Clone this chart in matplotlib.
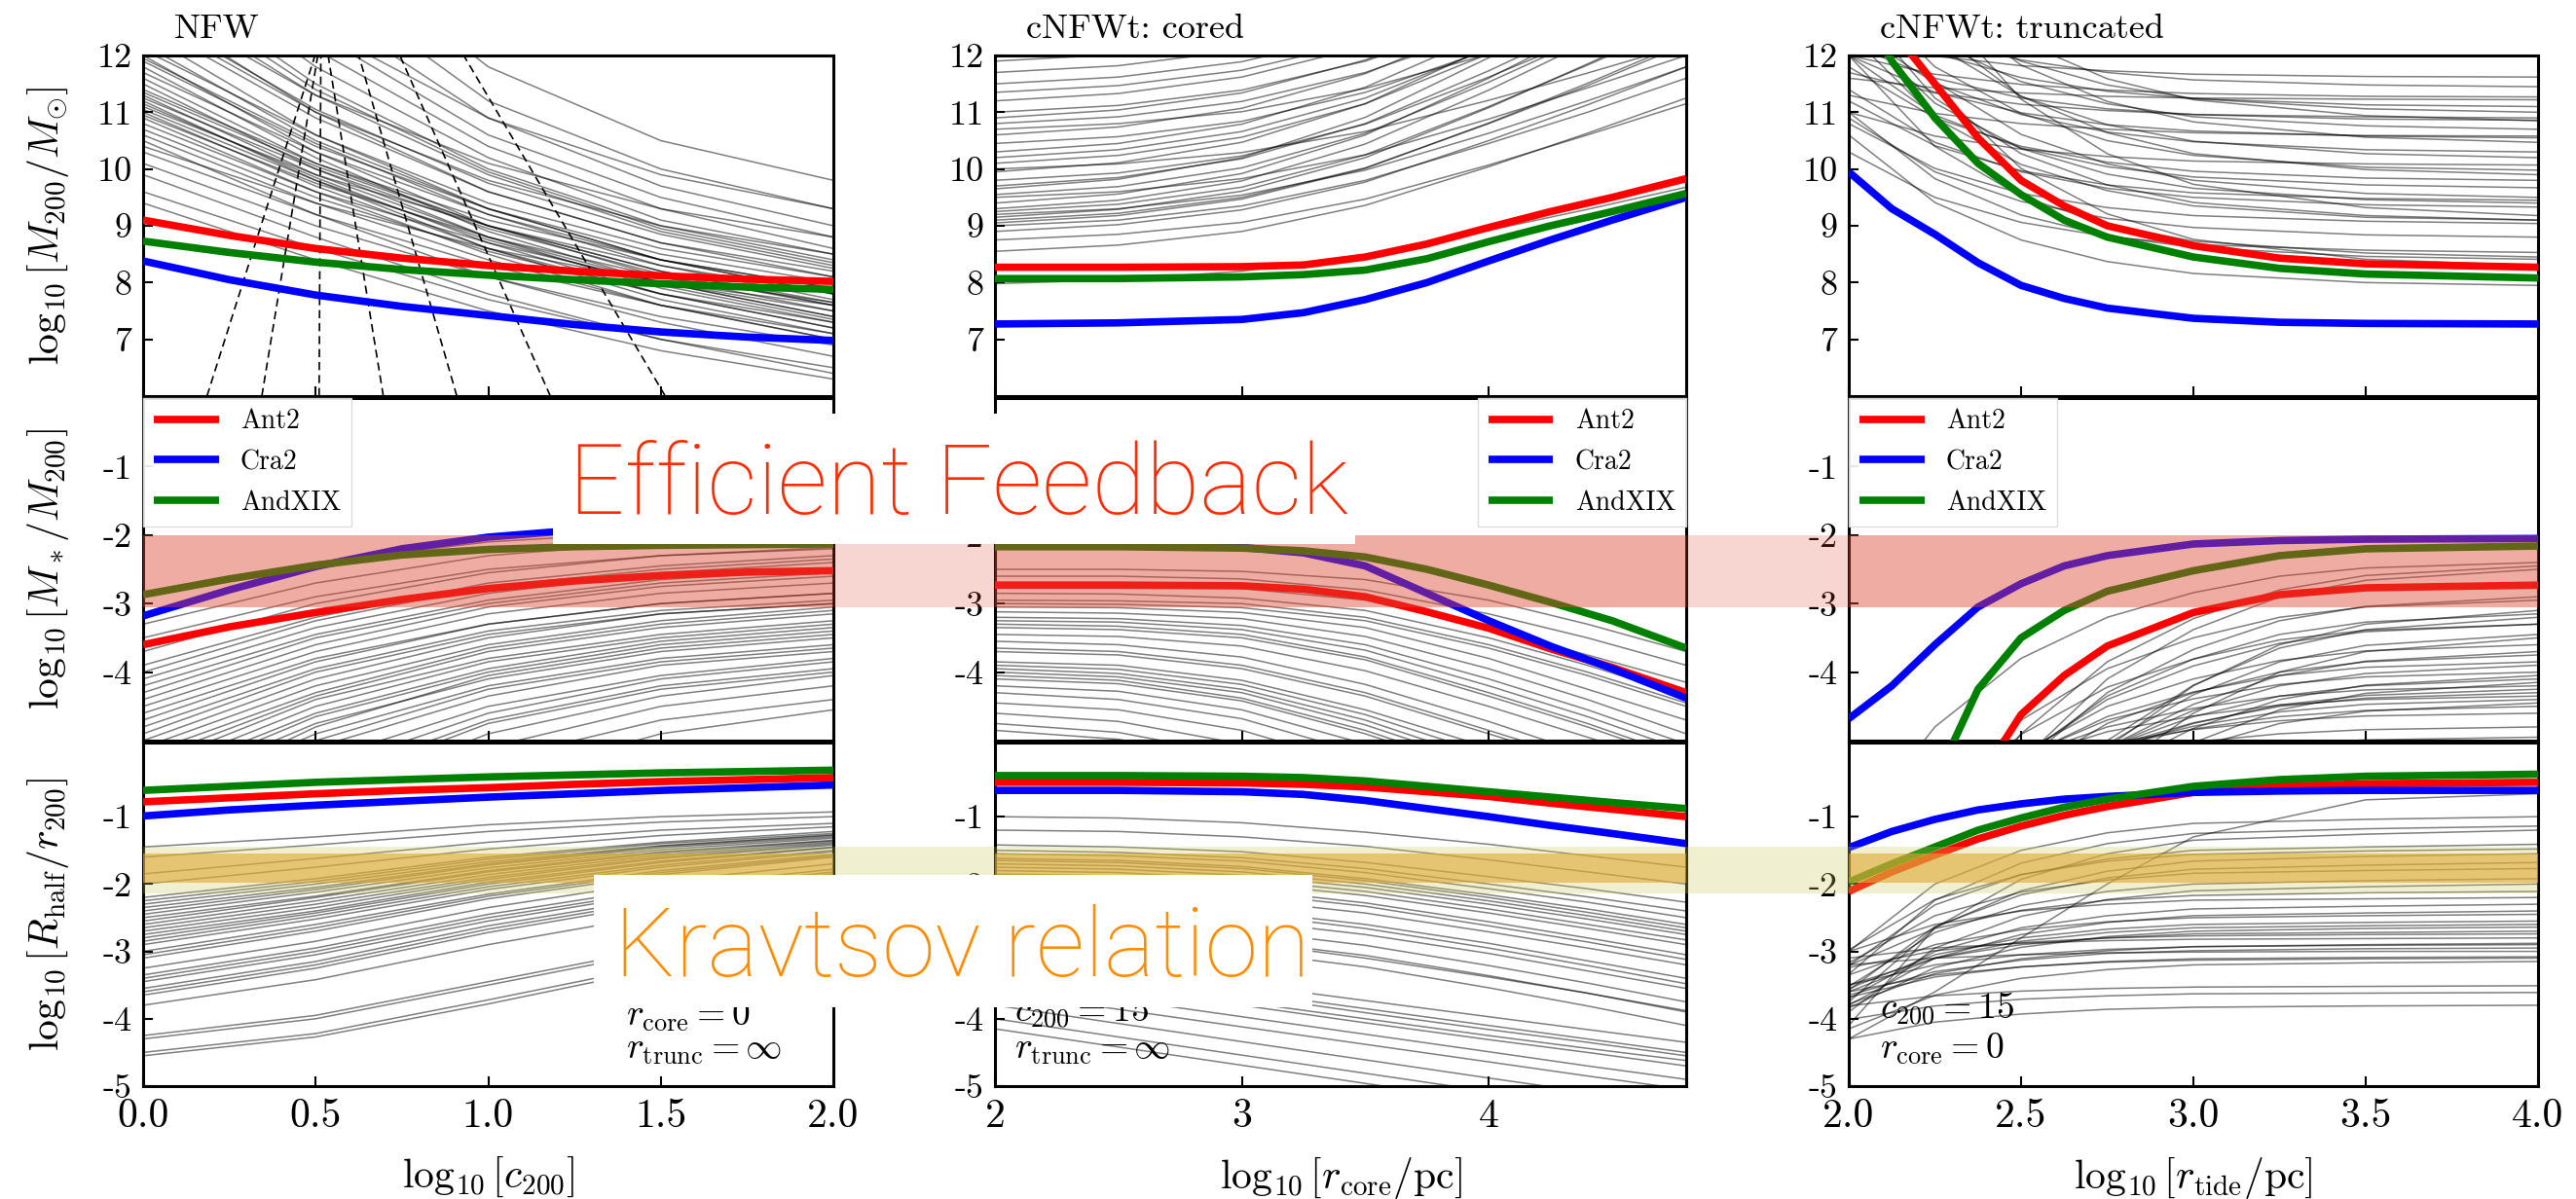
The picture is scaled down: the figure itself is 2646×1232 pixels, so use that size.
import matplotlib
matplotlib.use("Agg")
import matplotlib.pyplot as plt
from matplotlib.patches import Rectangle
from matplotlib.transforms import blended_transform_factory

plt.rcParams["font.family"] = "serif"
plt.rcParams["font.serif"] = ["cmr10"]
plt.rcParams["mathtext.fontset"] = "cm"
plt.rcParams["axes.unicode_minus"] = False
plt.rcParams["axes.formatter.use_mathtext"] = True

# ---------------- data ----------------
names = ["Ant2", "Cra2", "AndXIX"]
colors = ["red", "blue", "green"]
titles = ["NFW", "cNFWt: cored", "cNFWt: truncated"]
xlabels = [r"$\log_{10}[c_{200}]$", r"$\log_{10}[r_{\rm core}/{\rm pc}]$",
           r"$\log_{10}[r_{\rm tide}/{\rm pc}]$"]
ylabels = [r"$\log_{10}[M_{200}/M_{\odot}]$", r"$\log_{10}[M_*/M_{200}]$",
           r"$\log_{10}[R_{\rm half}/r_{200}]$"]
xticks = [[0.0, 0.5, 1.0, 1.5, 2.0], [2, 3, 4], [2.0, 2.5, 3.0, 3.5, 4.0]]
xticklabels = [["0.0", "0.5", "1.0", "1.5", "2.0"], ["2", "3", "4"],
               ["2.0", "2.5", "3.0", "3.5", "4.0"]]
xlims = [(0, 2), (2, 4.8), (2, 4)]
yticks = [[7, 8, 9, 10, 11, 12], [-1, -2, -3, -4], [-1, -2, -3, -4, -5]]
yticklabels = [["7", "8", "9", "10", "11", "12"], ["-1", "-2", "-3", "-4"],
               ["-1", "-2", "-3", "-4", "-5"]]
ylims = [(6, 12), (-5, 0), (-5, 0.1)]

# knots of the curves
nfw_x = [0.0, 0.25, 0.5, 0.75, 1.0, 1.25, 1.5, 1.75, 2.0]
nfw_x_gray = [0.0, 0.5, 1.0, 1.5, 2.0]
core_x = [2.0, 2.5, 3.0, 3.25, 3.5, 3.75, 4.0, 4.25, 4.5, 4.8]
core_x_gray = [2.0, 2.5, 3.0, 3.5, 4.0, 4.4, 4.8]
tide_x = [2.0, 2.125, 2.25, 2.375, 2.5, 2.625, 2.75, 3.0, 3.25, 3.5, 4.0]
tide_x_gray = [2.0, 2.25, 2.5, 2.75, 3.0, 3.5, 4.0]
tide_x_gray_mstar = [2.0, 2.25, 2.5, 2.75, 3.0, 3.25, 3.5, 4.0]

# NFW column
nfw_m200_ant2 = [9.1, 8.83, 8.6, 8.43, 8.3, 8.2, 8.12, 8.06, 8.02]
nfw_m200_cra2 = [8.38, 8.05, 7.78, 7.58, 7.42, 7.26, 7.13, 7.04, 6.98]
nfw_m200_andxix = [8.73, 8.53, 8.36, 8.23, 8.13, 8.05, 7.98, 7.92, 7.88]
nfw_mstar_ant2 = [-3.6, -3.34, -3.13, -2.94, -2.78, -2.67, -2.59, -2.54, -2.52]
nfw_mstar_cra2 = [-3.18, -2.8, -2.46, -2.2, -2.03, -1.93, -1.87, -1.84, -1.82]
nfw_mstar_andxix = [-2.87, -2.64, -2.44, -2.29, -2.21, -2.17, -2.15, -2.14, -2.13]
nfw_rhalf_ant2 = [-0.78, -0.72, -0.66, -0.61, -0.57, -0.52, -0.48, -0.45, -0.42]
nfw_rhalf_cra2 = [-0.99, -0.9, -0.83, -0.77, -0.71, -0.66, -0.61, -0.57, -0.53]
nfw_rhalf_andxix = [-0.61, -0.55, -0.49, -0.45, -0.41, -0.38, -0.35, -0.33, -0.31]

# dashed lines in the NFW mass panel: x at the bottom (6) and top (12)
nfw_dash_bottom = [0.185, 0.344, 0.51, 0.696, 0.909, 1.18, 1.513]
nfw_dash_top = [0.498, 0.506, 0.515, 0.536, 0.625, 0.744, 0.929]

nfw_m200_gray = [
    [18.5, 14.2, 11.8, 10.5, 9.8], [17.0, 13.4, 11.2, 10.0, 9.3],
    [16.0, 12.9, 10.9, 9.7, 9.0], [15.2, 12.4, 10.6, 9.5, 8.8],
    [14.6, 12.1, 10.4, 9.3, 8.6], [14.0, 11.8, 10.2, 9.1, 8.5],
    [13.6, 11.5, 10.0, 9.0, 8.4], [13.2, 11.3, 9.9, 8.9, 8.3],
    [12.9, 11.0, 9.6, 8.7, 8.1], [12.6, 10.9, 9.6, 8.7, 8.2],
    [12.4, 10.6, 9.3, 8.4, 7.8], [12.2, 10.5, 9.3, 8.4, 7.9],
    [12.0, 10.3, 9.0, 8.1, 7.5], [11.9, 10.4, 9.3, 8.5, 8.0],
    [11.8, 10.2, 8.9, 8.0, 7.4], [11.6, 10.1, 9.0, 8.2, 7.6],
    [11.5, 10.0, 8.8, 7.9, 7.3], [11.4, 10.1, 9.1, 8.4, 7.9],
    [11.3, 9.9, 8.8, 8.0, 7.4], [11.2, 9.8, 8.6, 7.7, 7.1],
    [11.1, 9.9, 9.0, 8.3, 7.8], [11.0, 9.7, 8.6, 7.8, 7.2],
    [10.9, 9.6, 8.5, 7.6, 7.0], [10.8, 9.6, 8.7, 8.0, 7.5],
    [10.6, 9.4, 8.4, 7.6, 7.0], [10.5, 9.2, 8.1, 7.3, 6.7],
    [10.3, 9.2, 8.3, 7.6, 7.1], [10.1, 9.0, 8.1, 7.4, 6.9],
    [9.9, 8.8, 7.8, 7.0, 6.4], [9.6, 8.6, 7.7, 7.0, 6.5],
    [9.4, 8.4, 7.5, 6.8, 6.3], [13.0, 11.3, 10.1, 9.3, 8.8],
    [15.0, 12.5, 10.9, 9.9, 9.3], [12.7, 11.0, 9.8, 9.0, 8.5],
    [11.7, 10.3, 9.2, 8.4, 7.8], [10.4, 9.4, 8.6, 8.0, 7.6],
    [12.1, 10.6, 9.4, 8.6, 8.1], [11.95, 10.45, 9.2, 8.3, 7.7],
    [11.25, 10.0, 8.95, 8.15, 7.6], [11.05, 9.8, 8.75, 7.95, 7.35],
    [10.95, 9.75, 8.8, 8.1, 7.65], [11.35, 10.05, 9.0, 8.2, 7.65],
    [10.7, 9.5, 8.55, 7.8, 7.3], [13.4, 11.4, 9.95, 8.95, 8.35],
    [12.8, 11.05, 9.75, 8.85, 8.25], [11.15, 9.85, 8.7, 7.8, 7.2],
]
nfw_mstar_gray = [
    [-2.9, -2.4, -2.1, -1.95, -1.88], [-3.3, -2.7, -2.3, -2.1, -2.0],
    [-3.7, -3.0, -2.55, -2.3, -2.18], [-3.9, -3.2, -2.7, -2.45, -2.3],
    [-4.1, -3.35, -2.85, -2.55, -2.4], [-4.3, -3.5, -3.0, -2.7, -2.55],
    [-4.5, -3.7, -3.15, -2.85, -2.7], [-4.6, -3.8, -3.3, -3.0, -2.85],
    [-4.8, -3.95, -3.4, -3.1, -2.95], [-5.0, -4.1, -3.5, -3.15, -3.0],
    [-5.2, -4.3, -3.65, -3.3, -3.1], [-5.4, -4.4, -3.8, -3.45, -3.25],
    [-5.6, -4.6, -3.95, -3.55, -3.35], [-5.8, -4.75, -4.1, -3.7, -3.5],
    [-6.0, -4.9, -4.2, -3.8, -3.6], [-6.3, -5.1, -4.35, -3.9, -3.7],
    [-6.6, -5.3, -4.5, -4.05, -3.8], [-7.0, -5.6, -4.7, -4.2, -3.95],
    [-7.4, -5.9, -4.9, -4.35, -4.05], [-7.8, -6.2, -5.1, -4.5, -4.2],
    [-8.2, -6.5, -5.3, -4.7, -4.4], [-3.5, -2.9, -2.5, -2.3, -2.2],
    [-4.0, -3.25, -2.75, -2.5, -2.35], [-4.4, -3.6, -3.05, -2.75, -2.6],
    [-4.9, -4.0, -3.45, -3.15, -3.0], [-5.3, -4.35, -3.7, -3.35, -3.15],
    [-5.7, -4.65, -4.0, -3.6, -3.4], [-6.2, -5.0, -4.25, -3.85, -3.65],
    [-6.8, -5.45, -4.6, -4.1, -3.85], [-9.0, -7.0, -5.6, -4.9, -4.55],
    [-4.2, -3.45, -2.95, -2.65, -2.5], [-4.7, -3.85, -3.3, -3.0, -2.85],
    [-5.1, -4.2, -3.6, -3.25, -3.05], [-5.5, -4.5, -3.85, -3.5, -3.3],
    [-6.0, -4.8, -4.05, -3.65, -3.45], [-7.2, -5.7, -4.75, -4.25, -4.0],
]
nfw_rhalf_gray = [
    [-1.45, -1.3, -1.12, -1.0, -0.93], [-1.6, -1.42, -1.22, -1.08, -1.0],
    [-1.85, -1.62, -1.38, -1.2, -1.1], [-2.0, -1.75, -1.48, -1.28, -1.15],
    [-2.2, -1.92, -1.6, -1.38, -1.22], [-2.3, -2.0, -1.67, -1.43, -1.27],
    [-2.4, -2.08, -1.72, -1.46, -1.3], [-2.5, -2.18, -1.8, -1.52, -1.35],
    [-2.6, -2.25, -1.86, -1.57, -1.38], [-2.7, -2.35, -1.93, -1.62, -1.42],
    [-2.8, -2.43, -2.0, -1.68, -1.46], [-2.9, -2.52, -2.08, -1.75, -1.52],
    [-3.0, -2.6, -2.15, -1.8, -1.56], [-3.1, -2.7, -2.22, -1.86, -1.6],
    [-3.25, -2.85, -2.35, -1.96, -1.7], [-3.35, -2.95, -2.45, -2.05, -1.78],
    [-3.45, -3.05, -2.55, -2.13, -1.85], [-3.55, -3.15, -2.62, -2.2, -1.9],
    [-3.65, -3.25, -2.72, -2.28, -1.98], [-3.8, -3.42, -2.9, -2.45, -2.12],
    [-4.25, -3.95, -3.45, -2.95, -2.6], [-4.3, -4.0, -3.5, -3.0, -2.65],
    [-4.5, -4.22, -3.72, -3.2, -2.82], [-4.55, -4.27, -3.78, -3.25, -2.87],
    [-2.35, -2.05, -1.7, -1.44, -1.28], [-2.75, -2.4, -1.97, -1.66, -1.45],
    [-3.05, -2.65, -2.18, -1.83, -1.58], [-3.6, -3.2, -2.67, -2.24, -1.94],
    [-2.25, -1.96, -1.63, -1.4, -1.25], [-2.45, -2.12, -1.76, -1.49, -1.32],
    [-2.55, -2.2, -1.82, -1.54, -1.36], [-2.65, -2.3, -1.9, -1.6, -1.4],
    [-2.85, -2.47, -2.04, -1.72, -1.5], [-3.4, -3.0, -2.5, -2.1, -1.82],
]

# cored column
core_m200_ant2 = [8.27, 8.27, 8.28, 8.31, 8.45, 8.68, 8.97, 9.25, 9.5, 9.83]
core_m200_cra2 = [7.27, 7.29, 7.35, 7.47, 7.7, 8.0, 8.38, 8.75, 9.1, 9.5]
core_m200_andxix = [8.07, 8.07, 8.1, 8.14, 8.22, 8.42, 8.72, 9.0, 9.25, 9.57]
core_mstar_ant2 = [-2.73, -2.73, -2.74, -2.79, -2.9, -3.12, -3.36, -3.66, -3.93, -4.3]
core_mstar_cra2 = [-2.13, -2.14, -2.18, -2.26, -2.45, -2.85, -3.25, -3.62, -3.95, -4.38]
core_mstar_andxix = [-2.17, -2.17, -2.19, -2.23, -2.32, -2.5, -2.73, -2.98, -3.25, -3.65]
core_rhalf_ant2 = [-0.49, -0.49, -0.5, -0.52, -0.56, -0.63, -0.7, -0.8, -0.89, -1.0]
core_rhalf_cra2 = [-0.61, -0.61, -0.63, -0.67, -0.76, -0.88, -1.0, -1.13, -1.25, -1.4]
core_rhalf_andxix = [-0.39, -0.39, -0.4, -0.42, -0.47, -0.55, -0.63, -0.71, -0.79, -0.88]

core_m200_gray = [
    [7.98, 8.05, 8.2, 8.49, 8.92, 9.29, 9.68], [8.55, 8.66, 8.9, 9.36, 10.04, 10.63, 11.25],
    [8.9, 9.02, 9.28, 9.77, 10.5, 11.13, 11.8], [9.05, 9.18, 9.47, 10.01, 10.81, 11.51, 12.25],
    [9.15, 9.29, 9.61, 10.2, 11.08, 11.85, 12.65], [9.3, 9.45, 9.79, 10.44, 11.39, 12.23, 13.1],
    [9.4, 9.56, 9.92, 10.6, 11.6, 12.48, 13.4], [9.55, 9.69, 10.02, 10.63, 11.53, 12.32, 13.15],
    [9.65, 9.82, 10.2, 10.91, 11.96, 12.88, 13.85], [9.8, 9.93, 10.23, 10.79, 11.62, 12.34, 13.1],
    [9.95, 10.11, 10.47, 11.15, 12.15, 13.03, 13.95], [10.1, 10.24, 10.56, 11.15, 12.03, 12.8, 13.6],
    [10.3, 10.45, 10.79, 11.44, 12.39, 13.23, 14.1], [10.45, 10.57, 10.84, 11.35, 12.1, 12.76, 13.45],
    [10.6, 10.74, 11.07, 11.68, 12.58, 13.37, 14.2], [10.8, 10.92, 11.19, 11.7, 12.45, 13.11, 13.8],
    [10.9, 11.04, 11.34, 11.92, 12.77, 13.52, 14.3], [11.0, 11.12, 11.39, 11.9, 12.65, 13.31, 14.0],
    [11.2, 11.33, 11.62, 12.16, 12.96, 13.66, 14.4], [11.35, 11.47, 11.74, 12.25, 13.0, 13.66, 14.35],
    [11.5, 11.62, 11.89, 12.4, 13.15, 13.81, 14.5], [11.7, 11.82, 12.09, 12.6, 13.35, 14.01, 14.7],
    [11.9, 12.02, 12.29, 12.8, 13.55, 14.21, 14.9], [9.2, 9.3, 9.54, 9.98, 10.63, 11.2, 11.8],
    [8.75, 8.85, 9.06, 9.47, 10.07, 10.6, 11.15], [9.5, 9.6, 9.83, 10.25, 10.88, 11.43, 12.0],
    [10.0, 10.09, 10.29, 10.66, 11.21, 11.69, 12.2], [10.7, 10.8, 11.01, 11.42, 12.02, 12.55, 13.1],
    [9.0, 9.1, 9.35, 9.8, 10.45, 11.0, 11.6], [9.25, 9.38, 9.68, 10.25, 11.1, 11.83, 12.6],
    [9.7, 9.85, 10.18, 10.8, 11.73, 12.54, 13.4], [10.2, 10.34, 10.66, 11.25, 12.12, 12.89, 13.7],
    [9.1, 9.22, 9.5, 10.02, 10.8, 11.47, 12.2],
]
core_mstar_gray = [
    [-2.5, -2.5, -2.53, -2.65, -2.95, -3.3, -3.7], [-2.6, -2.6, -2.64, -2.8, -3.15, -3.5, -3.9],
    [-2.85, -2.86, -2.92, -3.1, -3.5, -3.9, -4.35], [-3.05, -3.06, -3.13, -3.35, -3.8, -4.25, -4.7],
    [-3.12, -3.14, -3.22, -3.48, -3.95, -4.4, -4.9], [-3.2, -3.22, -3.32, -3.6, -4.1, -4.55, -5.05],
    [-3.3, -3.33, -3.45, -3.78, -4.3, -4.75, -5.25], [-3.45, -3.48, -3.62, -3.98, -4.5, -4.95, -5.4],
    [-3.55, -3.6, -3.78, -4.18, -4.72, -5.2, -5.7], [-3.7, -3.75, -3.95, -4.35, -4.9, -5.35, -5.8],
    [-3.85, -3.9, -4.12, -4.55, -5.1, -5.55, -6.0], [-3.95, -4.02, -4.25, -4.7, -5.3, -5.8, -6.3],
    [-4.05, -4.12, -4.38, -4.85, -5.45, -5.95, -6.45], [-4.2, -4.28, -4.55, -5.05, -5.65, -6.1, -6.6],
    [-4.3, -4.4, -4.68, -5.2, -5.8, -6.3, -6.8], [-4.45, -4.55, -4.85, -5.38, -6.0, -6.5, -7.0],
    [-4.6, -4.72, -5.05, -5.6, -6.2, -6.7, -7.2], [-4.75, -4.88, -5.22, -5.8, -6.4, -6.9, -7.4],
    [-4.85, -4.98, -5.35, -5.95, -6.55, -7.05, -7.55], [-2.95, -2.96, -3.0, -3.2, -3.6, -4.0, -4.45],
    [-3.35, -3.38, -3.5, -3.82, -4.35, -4.8, -5.3], [-3.9, -3.96, -4.18, -4.62, -5.2, -5.7, -6.2],
    [-4.1, -4.17, -4.42, -4.9, -5.5, -6.0, -6.5], [-2.72, -2.73, -2.78, -2.95, -3.35, -3.75, -4.15],
    [-3.0, -3.01, -3.06, -3.25, -3.65, -4.05, -4.5], [-3.25, -3.27, -3.38, -3.68, -4.2, -4.65, -5.15],
    [-3.65, -3.7, -3.9, -4.3, -4.85, -5.3, -5.75], [-4.0, -4.07, -4.3, -4.77, -5.37, -5.87, -6.37],
]
core_rhalf_gray = [
    [-1.0, -1.02, -1.09, -1.23, -1.41, -1.58, -1.75], [-1.2, -1.22, -1.3, -1.44, -1.64, -1.82, -2.0],
    [-1.42, -1.45, -1.52, -1.68, -1.89, -2.07, -2.27], [-1.5, -1.53, -1.61, -1.77, -2.0, -2.19, -2.4],
    [-1.65, -1.68, -1.77, -1.95, -2.2, -2.42, -2.65], [-1.75, -1.78, -1.87, -2.05, -2.3, -2.52, -2.75],
    [-1.85, -1.88, -1.98, -2.17, -2.43, -2.66, -2.9], [-1.95, -1.98, -2.08, -2.28, -2.56, -2.8, -3.05],
    [-2.1, -2.13, -2.23, -2.43, -2.71, -2.95, -3.2], [-2.25, -2.28, -2.39, -2.6, -2.88, -3.14, -3.4],
    [-2.4, -2.43, -2.54, -2.75, -3.03, -3.29, -3.55], [-2.55, -2.59, -2.69, -2.91, -3.21, -3.47, -3.75],
    [-2.7, -2.74, -2.84, -3.06, -3.36, -3.62, -3.9], [-2.85, -2.89, -3.0, -3.23, -3.54, -3.81, -4.1],
    [-3.0, -3.24, -3.49, -3.73, -3.97, -4.16, -4.35], [-3.15, -3.4, -3.65, -3.91, -4.16, -4.35, -4.55],
    [-3.3, -3.55, -3.8, -4.06, -4.31, -4.5, -4.7], [-3.45, -3.71, -3.97, -4.23, -4.49, -4.7, -4.9],
    [-3.6, -3.86, -4.12, -4.38, -4.64, -4.85, -5.05], [-3.8, -4.07, -4.34, -4.61, -4.88, -5.09, -5.3],
    [-4.0, -4.27, -4.54, -4.81, -5.08, -5.29, -5.5], [-4.15, -4.42, -4.69, -4.96, -5.23, -5.44, -5.65],
    [-1.62, -1.65, -1.74, -1.92, -2.16, -2.37, -2.6], [-1.7, -1.73, -1.82, -2.0, -2.25, -2.47, -2.7],
    [-2.0, -2.03, -2.13, -2.33, -2.62, -2.86, -3.12], [-2.6, -2.7, -2.86, -3.1, -3.38, -3.62, -3.88],
    [-3.25, -3.5, -3.75, -4.0, -4.25, -4.44, -4.62], [-1.55, -1.58, -1.66, -1.83, -2.07, -2.27, -2.5],
    [-1.8, -1.83, -1.93, -2.11, -2.37, -2.6, -2.83], [-2.3, -2.33, -2.44, -2.66, -2.95, -3.21, -3.48],
    [-3.1, -3.35, -3.6, -3.85, -4.1, -4.3, -4.5],
]

# truncated column
tide_m200_ant2 = [13.6, 12.45, 11.5, 10.55, 9.8, 9.35, 9.0, 8.65, 8.43, 8.33, 8.27]
tide_m200_cra2 = [9.95, 9.3, 8.85, 8.35, 7.95, 7.72, 7.55, 7.37, 7.3, 7.28, 7.27]
tide_m200_andxix = [13.3, 11.9, 10.9, 10.1, 9.55, 9.1, 8.8, 8.45, 8.25, 8.15, 8.08]
tide_mstar_ant2 = [-10.0, -8.5, -7.0, -5.6, -4.62, -4.05, -3.62, -3.13, -2.87, -2.77, -2.73]
tide_mstar_cra2 = [-4.68, -4.2, -3.6, -3.05, -2.71, -2.45, -2.3, -2.13, -2.08, -2.06, -2.05]
tide_mstar_andxix = [-8.5, -7.0, -5.6, -4.25, -3.5, -3.1, -2.82, -2.52, -2.3, -2.2, -2.16]
tide_rhalf_ant2 = [-2.11, -1.82, -1.57, -1.33, -1.14, -0.98, -0.85, -0.64, -0.55, -0.51, -0.49]
tide_rhalf_cra2 = [-1.46, -1.22, -1.04, -0.9, -0.81, -0.74, -0.7, -0.64, -0.62, -0.61, -0.61]
tide_rhalf_andxix = [-1.97, -1.7, -1.45, -1.2, -1.02, -0.86, -0.74, -0.55, -0.45, -0.4, -0.37]

tide_m200_gray = [
    [12.3, 11.99, 11.82, 11.73, 11.67, 11.63, 11.62], [13.0, 12.3, 11.92, 11.7, 11.57, 11.48, 11.45],
    [12.0, 11.67, 11.49, 11.39, 11.33, 11.28, 11.27], [14.0, 12.65, 11.9, 11.48, 11.24, 11.06, 11.0],
    [11.7, 11.34, 11.14, 11.03, 10.96, 10.92, 10.9], [13.5, 12.24, 11.54, 11.15, 10.92, 10.76, 10.7],
    [11.3, 10.98, 10.8, 10.7, 10.64, 10.59, 10.58], [15.0, 12.96, 11.83, 11.19, 10.83, 10.56, 10.47],
    [12.5, 11.51, 10.96, 10.65, 10.48, 10.34, 10.3], [11.0, 10.58, 10.35, 10.22, 10.14, 10.09, 10.07],
    [14.5, 12.43, 11.28, 10.64, 10.27, 9.99, 9.9], [12.0, 10.95, 10.37, 10.04, 9.86, 9.72, 9.67],
    [13.2, 11.54, 10.61, 10.09, 9.8, 9.57, 9.5], [11.4, 10.47, 9.95, 9.66, 9.5, 9.37, 9.33],
    [16.0, 12.93, 11.23, 10.27, 9.73, 9.32, 9.18], [10.8, 10.01, 9.57, 9.32, 9.18, 9.08, 9.04],
    [10.3, 9.5, 9.06, 8.81, 8.67, 8.57, 8.53], [11.0, 9.83, 9.19, 8.82, 8.62, 8.46, 8.41],
    [14.0, 11.44, 10.01, 9.21, 8.76, 8.41, 8.3], [10.6, 9.41, 8.75, 8.37, 8.16, 8.0, 7.95],
    [12.8, 12.04, 11.61, 11.37, 11.24, 11.13, 11.1], [13.8, 12.18, 11.28, 10.78, 10.49, 10.27, 10.2],
    [11.8, 10.9, 10.4, 10.12, 9.96, 9.84, 9.8], [12.6, 11.16, 10.36, 9.91, 9.66, 9.46, 9.4],
    [13.0, 11.25, 10.27, 9.72, 9.41, 9.18, 9.1], [15.5, 13.41, 12.25, 11.59, 11.22, 10.94, 10.85],
    [12.0, 11.35, 10.99, 10.78, 10.67, 10.58, 10.55], [12.0, 10.4, 9.52, 9.02, 8.73, 8.52, 8.45],
    [11.6, 11.43, 11.34, 11.28, 11.25, 11.23, 11.22], [12.2, 11.6, 11.25, 11.06, 10.96, 10.88, 10.86],
    [13.3, 11.8, 10.98, 10.5, 10.24, 10.03, 9.98], [11.2, 10.41, 9.97, 9.72, 9.58, 9.48, 9.45],
    [12.4, 10.9, 10.08, 9.62, 9.35, 9.15, 9.1], [10.9, 9.95, 9.43, 9.13, 8.97, 8.84, 8.8],
]
tide_mstar_gray = [
    [-6.4, -4.8, -3.8, -3.2, -2.84, -2.6, -2.48, -2.4],
    [-9.45, -6.65, -4.9, -3.85, -3.22, -2.8, -2.59, -2.45],
    [-10.5, -7.3, -5.3, -4.1, -3.38, -2.9, -2.66, -2.5],
    [-9.9, -7.1, -5.35, -4.3, -3.67, -3.25, -3.04, -2.9],
    [-9.15, -6.75, -5.25, -4.35, -3.81, -3.45, -3.27, -3.15],
    [-12.2, -8.6, -6.35, -5.0, -4.19, -3.65, -3.38, -3.2],
    [-8.8, -6.6, -5.23, -4.4, -3.91, -3.58, -3.41, -3.3],
    [-11.45, -8.25, -6.25, -5.05, -4.33, -3.85, -3.61, -3.45],
    [-8.1, -6.3, -5.18, -4.5, -4.1, -3.83, -3.69, -3.6],
    [-10.7, -7.9, -6.15, -5.1, -4.47, -4.05, -3.84, -3.7],
    [-7.85, -6.25, -5.25, -4.65, -4.29, -4.05, -3.93, -3.85],
    [-9.9, -7.5, -6.0, -5.1, -4.56, -4.2, -4.02, -3.9],
    [-7.5, -6.1, -5.23, -4.7, -4.39, -4.18, -4.07, -4.0],
    [-9.1, -7.1, -5.85, -5.1, -4.65, -4.35, -4.2, -4.1],
    [-7.2, -6.0, -5.25, -4.8, -4.53, -4.35, -4.26, -4.2],
    [-8.3, -6.7, -5.7, -5.1, -4.74, -4.5, -4.38, -4.3],
    [-6.95, -5.91, -5.26, -4.87, -4.64, -4.48, -4.4, -4.35],
    [-7.5, -6.3, -5.55, -5.1, -4.83, -4.65, -4.56, -4.5],
    [-6.8, -5.92, -5.37, -5.04, -4.84, -4.71, -4.64, -4.6],
    [-6.8, -6.0, -5.5, -5.2, -5.02, -4.9, -4.84, -4.8],
    [-6.95, -6.15, -5.65, -5.35, -5.17, -5.05, -4.99, -4.95],
    [-13.1, -9.1, -6.6, -5.1, -4.2, -3.6, -3.3, -3.1],
    [-7.95, -5.95, -4.7, -3.95, -3.5, -3.2, -3.05, -2.95],
    [-13.5, -9.5, -7.0, -5.5, -4.6, -4.0, -3.7, -3.5],
    [-10.45, -8.05, -6.55, -5.65, -5.11, -4.75, -4.57, -4.45],
    [-12.15, -8.95, -6.95, -5.75, -5.03, -4.55, -4.31, -4.15],
    [-7.9, -6.06, -4.91, -4.22, -3.81, -3.53, -3.39, -3.3],
    [-8.75, -6.75, -5.5, -4.75, -4.3, -4.0, -3.85, -3.75],
    [-11.05, -8.25, -6.5, -5.45, -4.82, -4.4, -4.19, -4.05],
    [-8.75, -6.95, -5.83, -5.15, -4.75, -4.48, -4.34, -4.25],
    [-7.9, -6.5, -5.63, -5.1, -4.79, -4.58, -4.47, -4.4],
]
tide_rhalf_gray = [
    [-4.3, -3.6, -2.8, -2.0, -1.3, -0.75, -0.66], [-3.0, -2.0, -1.5, -1.24, -1.1, -1.04, -1.0],
    [-3.34, -2.24, -1.69, -1.4, -1.25, -1.18, -1.14], [-3.21, -2.31, -1.86, -1.63, -1.5, -1.45, -1.41],
    [-2.98, -2.23, -1.86, -1.66, -1.56, -1.51, -1.48], [-3.58, -2.63, -2.16, -1.91, -1.78, -1.72, -1.68],
    [-3.17, -2.47, -2.12, -1.94, -1.84, -1.8, -1.77], [-3.52, -2.72, -2.32, -2.11, -2.0, -1.95, -1.92],
    [-3.21, -2.66, -2.39, -2.24, -2.17, -2.13, -2.11], [-3.7, -3.0, -2.65, -2.47, -2.37, -2.33, -2.3],
    [-3.35, -2.9, -2.68, -2.56, -2.5, -2.47, -2.45], [-3.84, -3.24, -2.94, -2.78, -2.7, -2.66, -2.64],
    [-3.24, -2.99, -2.87, -2.8, -2.77, -2.75, -2.74], [-3.78, -3.33, -3.11, -2.99, -2.93, -2.9, -2.88],
    [-3.68, -3.38, -3.23, -3.15, -3.11, -3.09, -3.08], [-3.81, -3.66, -3.59, -3.55, -3.53, -3.52, -3.51],
    [-4.01, -3.81, -3.71, -3.66, -3.63, -3.62, -3.61], [-4.3, -4.05, -3.93, -3.86, -3.83, -3.81, -3.8],
    [-3.9, -2.95, -2.48, -2.23, -2.1, -2.04, -2.0], [-3.0, -2.6, -2.4, -2.3, -2.24, -2.22, -2.2],
    [-3.55, -3.05, -2.8, -2.67, -2.6, -2.57, -2.55], [-3.1, -2.95, -2.88, -2.84, -2.82, -2.81, -2.8],
    [-3.65, -3.3, -3.13, -3.03, -2.99, -2.96, -2.95], [-3.2, -3.1, -3.05, -3.02, -3.01, -3.0, -3.0],
    [-4.15, -3.65, -3.4, -3.27, -3.2, -3.17, -3.15], [-4.1, -2.65, -1.93, -1.55, -1.35, -1.26, -1.2],
    [-3.6, -3.1, -2.85, -2.72, -2.65, -2.62, -2.6], [-3.5, -3.2, -3.05, -2.97, -2.93, -2.91, -2.9],
    [-3.5, -3.1, -2.9, -2.8, -2.74, -2.72, -2.7], [-3.6, -3.35, -3.23, -3.16, -3.13, -3.11, -3.1],
    [-3.8, -3.1, -2.75, -2.57, -2.47, -2.43, -2.4], [-3.75, -2.65, -2.1, -1.81, -1.66, -1.59, -1.55],
]

panel_x = [[nfw_x, core_x, tide_x]] * 3
gray_x = [[nfw_x_gray, core_x_gray, tide_x_gray],
          [nfw_x_gray, core_x_gray, tide_x_gray_mstar],
          [nfw_x_gray, core_x_gray, tide_x_gray]]
gray_sets = [[nfw_m200_gray, core_m200_gray, tide_m200_gray],
             [nfw_mstar_gray, core_mstar_gray, tide_mstar_gray],
             [nfw_rhalf_gray, core_rhalf_gray, tide_rhalf_gray]]
colored_sets = [
    [[nfw_m200_ant2, nfw_m200_cra2, nfw_m200_andxix],
     [core_m200_ant2, core_m200_cra2, core_m200_andxix],
     [tide_m200_ant2, tide_m200_cra2, tide_m200_andxix]],
    [[nfw_mstar_ant2, nfw_mstar_cra2, nfw_mstar_andxix],
     [core_mstar_ant2, core_mstar_cra2, core_mstar_andxix],
     [tide_mstar_ant2, tide_mstar_cra2, tide_mstar_andxix]],
    [[nfw_rhalf_ant2, nfw_rhalf_cra2, nfw_rhalf_andxix],
     [core_rhalf_ant2, core_rhalf_cra2, core_rhalf_andxix],
     [tide_rhalf_ant2, tide_rhalf_cra2, tide_rhalf_andxix]],
]

# ---------------- layout (pixels of the 2646x1232 canvas) ----------------
W, H = 2646, 1232
col_px = [(147, 856), (1022, 1732), (1899, 2607)]
row_px = [(57, 407), (409, 761), (763, 1116)]

fig = plt.figure(figsize=(W / 100, H / 100), dpi=100)


def fx(px):
    return px / W


def fy(py):
    return 1 - py / H


axes = [[None] * 3 for _ in range(3)]
for r in range(3):
    for c in range(3):
        x0, x1 = col_px[c]
        y0, y1 = row_px[r]
        ax = fig.add_axes([fx(x0), fy(y1), (x1 - x0) / W, (y1 - y0) / H])
        axes[r][c] = ax
        for curve in gray_sets[r][c]:
            ax.plot(gray_x[r][c], curve, color="black", lw=1.1, alpha=0.5, zorder=1)
        for vals, col, name in zip(colored_sets[r][c], colors, names):
            ax.plot(panel_x[r][c], vals, color=col, lw=5.5, label=name,
                    solid_capstyle="butt", zorder=3)
        ax.set_xlim(*xlims[c])
        ax.set_ylim(*ylims[r])
        ax.set_xticks(xticks[c])
        ax.set_yticks(yticks[r])
        ax.set_yticklabels(yticklabels[r])
        if r == 2:
            ax.set_xticklabels(xticklabels[c])
            ax.set_xlabel(xlabels[c], fontsize=30)
            ax.xaxis.set_label_coords(0.5, -0.2)
        else:
            ax.set_xticklabels([])
        ax.tick_params(direction="in", length=7, width=1.5, top=False, right=False)
        ax.tick_params(axis="x", labelsize=30, pad=9)
        ax.tick_params(axis="y", labelsize=26, pad=8)
        for s in ax.spines.values():
            s.set_linewidth(2.2)
        if c == 0:
            ax.set_ylabel(ylabels[r], fontsize=30)
            ax.yaxis.set_label_coords(-0.105, 0.5)
        if r == 0:
            ax.text(0.045, 1.03, titles[c], transform=ax.transAxes, fontsize=26,
                    ha="left", va="bottom")

# dashed lines in the NFW mass panel
for xb, xt in zip(nfw_dash_bottom, nfw_dash_top):
    axes[0][0].plot([xb, xt], [6, 12], color="black", lw=1.2, ls=(0, (5, 3)), zorder=2)

# legends in the middle row
legend_locs = ["upper left", "upper right", "upper left"]
for c in range(3):
    leg = axes[1][c].legend(loc=legend_locs[c], borderaxespad=0, fontsize=20,
                            handlelength=2.4, handletextpad=0.8, labelspacing=0.55,
                            fancybox=False, framealpha=0.9, edgecolor="0.85")
    leg.set_zorder(6)

# parameter notes in the bottom row
axes[2][0].text(1.4, -3.95, r"$r_{\rm core} = 0$", fontsize=27, va="center", zorder=5)
axes[2][0].text(1.4, -4.47, r"$r_{\rm trunc} = \infty$", fontsize=27, va="center", zorder=5)
axes[2][1].text(2.08, -3.9, r"$c_{200} = 15$", fontsize=27, va="center", zorder=5)
axes[2][1].text(2.08, -4.47, r"$r_{\rm trunc} = \infty$", fontsize=27, va="center", zorder=5)
axes[2][2].text(2.09, -3.85, r"$c_{200} = 15$", fontsize=27, va="center", zorder=5)
axes[2][2].text(2.09, -4.45, r"$r_{\rm core} = 0$", fontsize=27, va="center", zorder=5)

# ---------------- overlays ----------------
feedback_band = (-3.05, -2.0)
kravtsov_band = (-1.98, -1.55)
kravtsov_glow = (-2.14, -1.45)

for c in range(3):
    axes[1][c].axhspan(*feedback_band, color=(0.86, 0.28, 0.2), alpha=0.45, lw=0, zorder=4)
    axes[2][c].axhspan(*kravtsov_band, color="#e59a25", alpha=0.6, lw=0, zorder=4)

tr_mid = blended_transform_factory(fig.transFigure, axes[1][0].transData)
for gx0, gx1 in [(856, 1022), (1732, 1899)]:
    fig.add_artist(Rectangle((fx(gx0), feedback_band[0]), fx(gx1 - gx0),
                             feedback_band[1] - feedback_band[0], transform=tr_mid,
                             color=(0.86, 0.28, 0.2), alpha=0.22, lw=0, zorder=5))

tr_bot = blended_transform_factory(fig.transFigure, axes[2][0].transData)
fig.add_artist(Rectangle((fx(147), kravtsov_glow[0]), fx(2607 - 147),
                         kravtsov_glow[1] - kravtsov_glow[0], transform=tr_bot,
                         color=(0.8, 0.8, 0.35), alpha=0.28, lw=0, zorder=5))

# white label boxes
fig.add_artist(Rectangle((fx(568), fy(559)), fx(1392 - 568), (559 - 425) / H,
                         transform=fig.transFigure, color="white", lw=0, zorder=7))
fig.add_artist(Rectangle((fx(610), fy(1035)), fx(1348 - 610), (1035 - 899) / H,
                         transform=fig.transFigure, color="white", lw=0, zorder=7))
fig.text(fx(584), fy(528), "Efficient Feedback", fontsize=73, color="#ff2a00",
         family="Roboto", weight="light", ha="left", va="baseline", zorder=8)
fig.text(fx(631), fy(1003), "Kravtsov relation", fontsize=71, color="#ff8c00",
         family="Roboto", weight="light", ha="left", va="baseline", zorder=8)

fig.savefig("out.png", dpi=100)
